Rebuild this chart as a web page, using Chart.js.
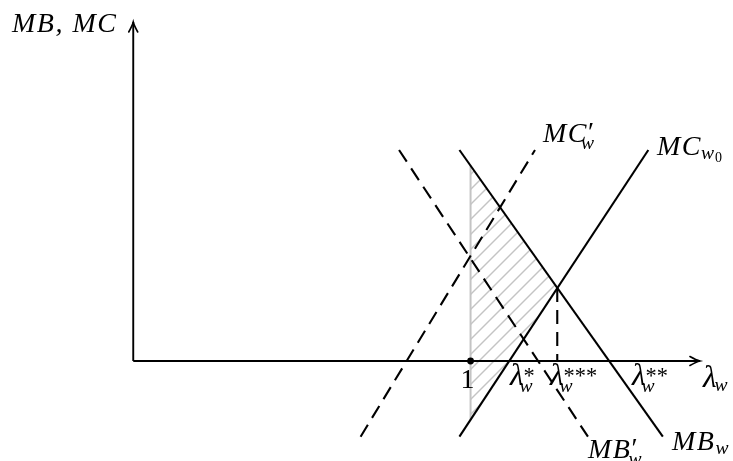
<!DOCTYPE html>
<html>
<head>
<meta charset="utf-8">
<script src="https://cdn.jsdelivr.net/npm/chart.js@4.4.1/dist/chart.umd.min.js"></script>
<style>
  html, body { margin: 0; padding: 0; background: #fff; }
  canvas { display: block; }
</style>
</head>
<body>
<canvas id="c" width="733" height="461"></canvas>
<script>
// Marginal benefit / marginal cost schedules against lambda_w (end points of each straight schedule)
const MB_W       = [{ x: 0.967, y: 2.11 }, { x: 1.570, y: -0.757 }];
const MC_W0      = [{ x: 0.967, y: -0.757 }, { x: 1.527, y: 2.11 }];
const MB_W_PRIME = [{ x: 0.788, y: 2.11 }, { x: 1.348, y: -0.757 }];
const MC_W_PRIME = [{ x: 0.674, y: -0.757 }, { x: 1.191, y: 2.11 }];

// Equilibrium lambda_w*** where MB_w meets MC_w0, and the value there
const LAMBDA_3STAR = [1.257];
const VALUE_3STAR  = [0.730];

// Shaded wedge between lambda_w = 1 and the MB_w / MC_w0 crossing
const WEDGE_TOP    = [{ x: 1, y: 1.953 }, { x: 1.257, y: 0.730 }];
const WEDGE_BOTTOM = [{ x: 1, y: -0.588 }, { x: 1.257, y: 0.730 }];
const LAMBDA_ONE   = [{ x: 1, y: 1.953 }, { x: 1, y: -0.588 }];
const MARKED_POINT = [{ x: 1, y: 0 }];

// Axis extents
const LAMBDA_AXIS = [{ x: 0, y: 0 }, { x: 1.68, y: 0 }];
const VALUE_AXIS  = [{ x: 0, y: 0 }, { x: 0, y: 3.39 }];

const X_RANGE = [-0.395, 1.778];
const Y_RANGE = [-1.0, 3.61];

const DROP_LINE = [{ x: LAMBDA_3STAR[0], y: VALUE_3STAR[0] }, { x: LAMBDA_3STAR[0], y: 0 }];

// Labels (math-style): base, superscript, subscript, sub-subscript
const LABELS = [
  { at: { x: -0.3594, y: 3.29 }, base: 'MB, MC' },
  { at: { x: 1.2147, y: 2.19 }, base: 'MC', sup: '\u2032', sub: 'w', supScale: 1.0, supRise: 0.02, subDx: -7 },
  { at: { x: 1.5527, y: 2.06 }, base: 'MC', sub: 'w', sub2: '0', subDx: -1 },
  { at: { x: 1.3481, y: -0.97 }, base: 'MB', sup: '\u2032', sub: 'w', supScale: 1.0, supRise: 0.02, subDx: -3 },
  { at: { x: 1.5971, y: -0.89 }, base: 'MB', sub: 'w' },
  { at: { x: 0.9701, y: -0.27 }, base: '1', upright: true },
  { at: { x: 1.1169, y: -0.24 }, base: '\u03bb', baseScale: 1.12, sup: '*', supScale: 0.8, sub: 'w', supRise: 0.08, subDx: -4 },
  { at: { x: 1.2354, y: -0.24 }, base: '\u03bb', baseScale: 1.12, sup: '***', supScale: 0.8, sub: 'w', supRise: 0.08, subDx: -4 },
  { at: { x: 1.4785, y: -0.24 }, base: '\u03bb', baseScale: 1.12, sup: '**', supScale: 0.8, sub: 'w', supRise: 0.08, subDx: -4 },
  { at: { x: 1.6890, y: -0.26 }, base: '\u03bb', baseScale: 1.12, sub: 'w', subDx: -2 }
];

const INK = '#000000';
const LIGHT = '#c4c4c4';
const DASH = [14, 8];
const FAMILY = '"Liberation Serif", "DejaVu Serif", serif';
const FONT_SIZE = 28;

function hatchPattern() {
  const T = 15;
  const tile = document.createElement('canvas');
  tile.width = T; tile.height = T;
  const g = tile.getContext('2d');
  g.strokeStyle = LIGHT;
  g.lineWidth = 1.4;
  for (const o of [-T, 0, T]) {
    g.beginPath();
    g.moveTo(o - 1, T + 1);
    g.lineTo(o + T + 1, -1);
    g.stroke();
  }
  return g.createPattern(tile, 'repeat');
}

function drawMath(ctx, px, py, L) {
  const S = FONT_SIZE;
  ctx.fillStyle = INK;
  ctx.textAlign = 'left';
  ctx.textBaseline = 'alphabetic';
  ctx.font = (L.upright ? '' : 'italic ') + (S * (L.baseScale || 1)) + 'px ' + FAMILY;
  ctx.letterSpacing = L.base.length > 1 ? '1.5px' : '0px';
  ctx.fillText(L.base, px, py);
  const w = ctx.measureText(L.base).width;
  ctx.letterSpacing = '0px';
  const sx = px + w;
  if (L.sup) {
    const s = (L.supScale || 0.7) * S;
    ctx.font = s + 'px ' + FAMILY;
    ctx.fillText(L.sup, sx, py - (L.supRise !== undefined ? L.supRise : 0.35) * S);
  }
  if (L.sub) {
    const s = 0.7 * S;
    ctx.font = 'italic ' + s + 'px ' + FAMILY;
    const bx = sx + (L.subDx || 0);
    const by = py + (L.sup ? 0.26 : 0.16) * S;
    ctx.fillText(L.sub, bx, by);
    if (L.sub2) {
      const ws = ctx.measureText(L.sub).width;
      ctx.font = (0.5 * S) + 'px ' + FAMILY;
      ctx.fillText(L.sub2, bx + ws + 1, by + 0.08 * S);
    }
  }
}

function arrowHead(ctx, tip, from) {
  const ang = Math.atan2(tip.y - from.y, tip.x - from.x);
  const len = 10, half = 4.5;
  ctx.save();
  ctx.translate(tip.x, tip.y);
  ctx.rotate(ang);
  ctx.strokeStyle = INK;
  ctx.lineWidth = 1.6;
  ctx.lineCap = 'round';
  ctx.beginPath();
  ctx.moveTo(-len, -half);
  ctx.quadraticCurveTo(-len * 0.35, -half * 0.2, 0, 0);
  ctx.quadraticCurveTo(-len * 0.35, half * 0.2, -len, half);
  ctx.stroke();
  ctx.restore();
}

const axisArrows = {
  id: 'axisArrows',
  afterDatasetsDraw(chart) {
    const ctx = chart.ctx;
    for (const id of ['lambdaAxis', 'valueAxis']) {
      const idx = chart.data.datasets.findIndex(d => d.id === id);
      const pts = chart.getDatasetMeta(idx).data;
      arrowHead(ctx, pts[pts.length - 1], pts[0]);
    }
  }
};

const mathLabels = {
  id: 'mathLabels',
  afterDraw(chart) {
    const ctx = chart.ctx;
    const xs = chart.scales.x, ys = chart.scales.y;
    ctx.save();
    for (const L of LABELS) {
      drawMath(ctx, xs.getPixelForValue(L.at.x), ys.getPixelForValue(L.at.y), L);
    }
    ctx.restore();
  }
};

function lineSet(id, data, color, width, dash, order) {
  return {
    id, data, borderColor: color, borderWidth: width, borderDash: dash || [],
    pointRadius: 0, fill: false, tension: 0, order, borderCapStyle: 'butt'
  };
}

const datasets = [
  { id: 'wedgeTop', data: WEDGE_TOP, borderWidth: 0, pointRadius: 0, fill: '+1',
    backgroundColor: hatchPattern(), order: 20 },
  { id: 'wedgeBottom', data: WEDGE_BOTTOM, borderWidth: 0, pointRadius: 0, fill: false, order: 20 },
  lineSet('lambdaOne', LAMBDA_ONE, LIGHT, 2, null, 15),
  lineSet('lambdaAxis', LAMBDA_AXIS, INK, 1.9, null, 5),
  lineSet('valueAxis', VALUE_AXIS, INK, 1.9, null, 5),
  lineSet('mbW', MB_W, INK, 2.1, null, 2),
  lineSet('mcW0', MC_W0, INK, 2.1, null, 2),
  lineSet('mbWPrime', MB_W_PRIME, INK, 2.1, DASH, 3),
  lineSet('mcWPrime', MC_W_PRIME, INK, 2.1, DASH, 3),
  lineSet('drop', DROP_LINE, INK, 2.1, DASH, 3),
  { id: 'marked', data: MARKED_POINT, showLine: false, pointRadius: 3.4,
    pointBackgroundColor: INK, pointBorderColor: INK, pointBorderWidth: 0, order: 0 }
];

new Chart(document.getElementById('c'), {
  type: 'line',
  data: { datasets },
  options: {
    responsive: false,
    animation: false,
    devicePixelRatio: 1,
    layout: { padding: 0, autoPadding: false },
    events: [],
    plugins: { legend: { display: false }, tooltip: { enabled: false } },
    scales: {
      x: { type: 'linear', min: X_RANGE[0], max: X_RANGE[1], display: false },
      y: { type: 'linear', min: Y_RANGE[0], max: Y_RANGE[1], display: false }
    }
  },
  plugins: [axisArrows, mathLabels]
});
</script>
</body>
</html>
